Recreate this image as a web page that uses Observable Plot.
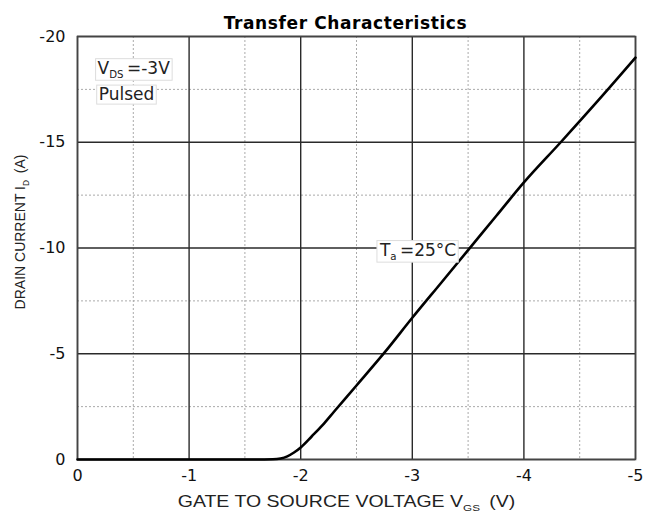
<!DOCTYPE html>
<html><head><meta charset="utf-8">
<script src="https://cdn.jsdelivr.net/npm/d3@7"></script>
<script src="https://cdn.jsdelivr.net/npm/@observablehq/plot@0.6"></script>
<style>body{margin:0;background:#fff;} svg{display:block;}</style>
</head><body><div id="chart"></div>
<script>
const title = "Transfer Characteristics";
const xLabel = "GATE TO SOURCE VOLTAGE V_{GS} (V)";
const yLabel = "DRAIN CURRENT I_{D} (A)";
const vgs = [0, -1, -1.6, -1.75, -1.82, -1.88, -1.94, -2.0, -2.1, -2.2, -2.3, -2.5, -2.75, -3.0, -3.25, -3.5, -3.75, -4.0, -4.33, -4.67, -5.0];
const idA = [0, 0, 0, -0.01, -0.05, -0.15, -0.33, -0.57, -1.1, -1.65, -2.27, -3.5, -5.05, -6.7, -8.3, -9.9, -11.5, -13.1, -15.0, -17.0, -19.0];
const xMajor = [0, -1, -2, -3, -4, -5];
const xMinor = [-0.5, -1.5, -2.5, -3.5, -4.5];
const yMajor = [0, -5, -10, -15, -20];
const yMinor = [-2.5, -7.5, -12.5, -17.5];
const notes = [
  {x: -0.18, y: -18.5, text: "V_{DS}=-3V"},
  {x: -0.19, y: -17.25, text: "Pulsed"},
  {x: -2.71, y: -9.9, text: "T_{a}=25°C"}
];
const data = vgs.map((v, i) => ({vgs: v, id: idA[i]}));
const font = "DejaVu Sans, sans-serif";
const arial = "Liberation Sans, Arial, sans-serif";

const plot = Plot.plot({
  width: 656, height: 516,
  marginLeft: 77, marginRight: 21, marginTop: 36, marginBottom: 57,
  style: {fontFamily: font, fontSize: "16px", color: "#111", background: "#fff"},
  x: {domain: [0, -5], ticks: xMajor, tickFormat: d => String(d), tickSize: 0, tickPadding: 10, label: null},
  y: {domain: [0, -20], ticks: yMajor, tickFormat: d => String(d), tickSize: 0, tickPadding: 12, label: null},
  marks: [
    Plot.ruleX(xMinor, {stroke: "#aaa", strokeDasharray: "2,2", strokeWidth: 1}),
    Plot.ruleY(yMinor, {stroke: "#aaa", strokeDasharray: "2,2", strokeWidth: 1}),
    Plot.ruleX(xMajor, {stroke: "#2a2a2a", strokeWidth: 1.4}),
    Plot.ruleY(yMajor, {stroke: "#2a2a2a", strokeWidth: 1.4}),
    Plot.frame({stroke: "#444", strokeWidth: 1.6}),
    Plot.line(data, {x: "vgs", y: "id", stroke: "#000", strokeWidth: 2.6, curve: "monotone-x"}),
    Plot.text(notes, {x: "x", y: "y", text: "text", textAnchor: "start", fontSize: 17, fill: "#222", className: "note"}),
    Plot.text([title], {frameAnchor: "top", dx: -11, dy: -20, fontWeight: "bold", fontSize: 17, fill: "#000", className: "ttl"}),
    Plot.text([xLabel], {frameAnchor: "bottom", dx: -10, dy: 47, fontSize: 16, fontFamily: arial, fill: "#222", className: "sub xlab"}),
    Plot.text([yLabel], {frameAnchor: "left", textAnchor: "middle", lineAnchor: "middle", dx: -57, dy: -16, rotate: -90, fontSize: 14, fontFamily: arial, fill: "#222", className: "sub ylab"})
  ]
});
document.getElementById("chart").appendChild(plot);
const svg = d3.select(plot);
// build subscripts
svg.selectAll("text").each(function() {
  const t = d3.select(this);
  const s = this.textContent;
  if (!s.includes("_{")) return;
  const parts = s.split(/(_\{[^}]*\})/);
  t.text(null);
  for (const p of parts) {
    if (!p) continue;
    if (p.startsWith("_{")) {
      t.append("tspan").attr("font-size", "0.6em").attr("dy", "0.45em").text(p.slice(2, -1));
      t.append("tspan").attr("dy", "-0.27em").text("\u2009");
    } else t.append("tspan").text(p);
  }
});
function stretch(sel, sx) {
  svg.selectAll(sel).each(function() {
    const tr = this.getAttribute("transform") || "";
    this.setAttribute("transform", tr + ` scale(${sx},1)`);
  });
}
stretch(".xlab text", 1.22);
svg.selectAll(".ttl text").attr("letter-spacing", "0.6px");
// boxes behind notes
svg.selectAll(".note text").each(function() {
  const b = this.getBBox();
  const tr = this.getAttribute("transform");
  d3.select(this.parentNode).insert("rect", () => this)
    .attr("x", b.x - 2).attr("y", b.y + 1).attr("width", b.width + 4).attr("height", b.height - 1)
    .attr("transform", tr).attr("fill", "#fff").attr("stroke", "#ddd").attr("stroke-width", 1);
});
</script></body></html>
